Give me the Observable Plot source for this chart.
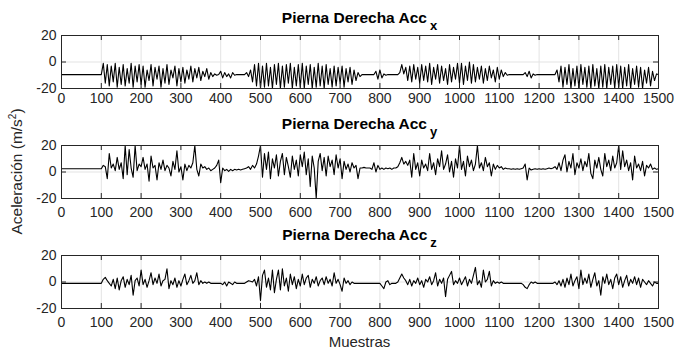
<!DOCTYPE html>
<html>
<head>
<meta charset="utf-8">
<script src="https://cdn.jsdelivr.net/npm/d3@7"></script>
<script src="https://cdn.jsdelivr.net/npm/@observablehq/plot@0.6"></script>
<style>
  body { margin: 0; background: #fff; }
  #fig { position: relative; width: 684px; height: 350px; overflow: hidden; background: #fff; }
  #fig svg { position: absolute; left: 0; }
</style>
</head>
<body>
<div id="fig"></div>
<script>
// Tick values shared by the three panels
const xTicks = [0, 100, 200, 300, 400, 500, 600, 700, 800, 900, 1000, 1100, 1200, 1300, 1400, 1500];
const yTicks = [-20, 0, 20];

// One value every 5 samples (0 … 1500)
const sampleStep = 5;

// Right leg accelerometer, X axis (m/s²)
const accX = [
  -9.5, -9.5, -9.5, -9.5, -9.5, -9.5, -9.5, -9.5, -9.5, -9.5, -9.5, -9.5, -9.5, -9.5, -9.5, -9.5, -9.5, -9.5, -9.5, -9.5,
  -9.5, -1, -16, -2, -18, -3, -15, -1, -19, -4, -17, -2, -18, -5, -16, -1, -19, -3, -15, -2,
  -17, -3, -19, -6, -14, -2, -18, -4, -13, -3, -19, -5, -16, -2, -17, -6, -12, -3, -18, -5,
  -15, -4, -16, -6, -13, -3, -15, -5, -12, -4, -14, -7, -11, -5, -13, -8, -11, -9, -10, -9.5,
  -7, -12, -8, -11, -9, -12, -8, -10, -9.5, -9.5, -9.5, -9.5, -9.5, -8, -11, -6, -15, -2, -18, -1,
  -20, -3, -19, -1, -18, -4, -20, -2, -17, -1, -20, -3, -19, -2, -16, -1, -20, -4, -18, -2,
  -19, -1, -20, -3, -17, -2, -20, -4, -19, -1, -18, -3, -20, -2, -17, -5, -19, -3, -18, -4,
  -16, -3, -19, -5, -15, -4, -17, -6, -14, -8, -11, -9.5, -9.5, -9.5, -9.5, -9.5, -9.5, -9.5, -7, -13,
  -6, -12, -9, -10, -9.5, -9.5, -9.5, -9.5, -9.5, -9.5, -8, -2, -9, -4, -14, -3, -15, -2, -13, -4,
  -16, -2, -14, -3, -15, -1, -17, -4, -13, -2, -16, -3, -14, -5, -17, -2, -15, -4, -13, -1,
  -16, -1, -17, -3, -14, 0, -16, -2, -15, -4, -13, -3, -16, -5, -14, -3, -12, -6, -15, -4,
  -13, -6, -11, -8, -10, -9.5, -9.5, -9.5, -9.5, -9.5, -9.5, -9.5, -9.5, -8, -11, -7, -12, -9, -10, -9.5,
  -9.5, -9.5, -9.5, -9.5, -9.5, -9.5, -9.5, -9.5, -9.5, -6, -15, -3, -19, -4, -17, -2, -20, -5, -18, -3,
  -20, -2, -17, -4, -19, -3, -20, -2, -18, -5, -20, -3, -19, -2, -20, -4, -17, -3, -20, -2,
  -19, -3, -20, -4, -18, -2, -20, -5, -17, -3, -19, -4, -20, -6, -16, -4, -18, -7, -14, -9,
  -9.5
];

// Right leg accelerometer, Y axis (m/s²)
const accY = [
  2.5, 2.5, 2.5, 2.5, 2.5, 2.5, 2.5, 2.5, 2.5, 2.5, 2.5, 2.5, 2.5, 2.5, 2.5, 2.5, 2.5, 2.5, 2.5, 2.5,
  2.5, 5, 4, -5, 14, 3, 6, 1, 11, 2, 7, -5, 20, -2, 17, 3, -4, 20, 1, 6,
  4, 11, 2, 6, -7, 12, 3, 5, -6, 7, 2, 9, 1, 5, 3, -3, 8, 2, 16, 0,
  4, -6, 6, 1, 5, 3, 7, 20, 2, -3, 6, 3, 4, 2, 3, 1, 2, 3, 5, 9,
  -8, 3, 1, 2, 0.5, 2, 1, 2, 1.5, 2, 1.5, 2, 2.5, 3, 4, 2, 5, 3, 6, 12,
  20, -4, 14, 2, 15, -5, 10, 3, 13, -3, 8, 14, -2, 11, 4, -4, 12, 2, 9, -3,
  13, 4, 15, -2, 10, -11, 12, 3, -20, 8, 14, 1, 11, -3, 12, 4, 9, -2, 13, 3,
  10, -5, 8, 2, 6, 0, 7, 3, 5, -5, 3, 3, 3.5, 3, 3, 3, 2, 7, 0, 5,
  2, 3, 2, 3, 2.5, 3, 2, 3, 3, 4, 7, 11, 6, 8, 5, 9, -4, 14, 2, 7,
  -3, 9, 3, 6, 1, 14, 2, 7, -2, 10, 4, 16, 2, 6, 13, 0, 8, -4, 10, 3,
  20, 2, 8, -3, 12, 4, 9, 1, 6, 20, 3, 7, 1, 11, 4, 7, -3, 6, 2, 5,
  3, 4, 2, 3, 2.5, 2.5, 2, 2.5, 2, 2.5, 2, 2.5, 3, 6, -6, 3, 1.5, 2, 2.5, 2,
  2.5, 2, 2.5, 2, 2.5, 3, 2.5, 3, 4, 2, 7, 1, 9, 13, 0, 8, 3, 14, -2, 7,
  3, 10, 1, 8, 4, 14, -1, -5, 9, 3, 11, 2, -3, 14, 4, 9, 1, 12, 3, 7,
  20, 2, 16, 4, 9, 1, 7, -6, 12, 3, 6, 1, 8, -3, 5, 3, 6, 2, 3, 2,
  2.5
];

// Right leg accelerometer, Z axis (m/s²)
const accZ = [
  -1, -1, -1, -1, -1, -1, -1, -1, -1, -1, -1, -1, -1, -1, -1, -1, -1, -1, -1, -1,
  -1, 2, 3.5, 1, -1, -3, 2, -5, 3, -6, 1, 4, -4, 2, -2, 5, -10, 1, 3, -3,
  9, -2, 2, -4, 1, 7, -2, 3, -1, 6, -3, 1, 2, 10, -5, 1, -2, 3, -4, 1,
  -3, 2, 6, -2, 1, 5, -1, 1, 7, -2, 1, -1, 0, -1, 0, -1, -1, -1, -1, -1,
  -1, -2, 0, -3, 0, -1, -2, 0, -1, -1, -1, -1, -1, 0, 1, 0.5, 0, 2, -3, 4,
  -14, 5, 9, -4, 3, -6, 9, -8, 2, 9, -6, 10, -3, 3, -7, 6, -2, 4, -5, 2,
  -3, 6, -2, 3, 5, -4, 2, -1, 4, -3, 1, 3, -2, 4, -1, 2, -3, 7, -1, 2,
  -2, -7, 3, -1, 1, -2, 0, -1, -1, -1, -1, -1, -1, -1, -1, -1, -1, -1, -1, -1,
  -1, -3, -5, 0, 1, -2, -1, -1, -1, 0, 3, 6, 3, 1, -2, 2, -3, 1, -1, 3,
  -2, 1, -4, 2, 0, 4, -2, 1, 7, -3, 2, -1, 3, -11, 2, 5, 8, -2, 1, -1,
  3, -2, 1, 4, -3, 2, -1, 5, 11, -2, 1, -4, 9, 0, 2, 8, -3, 1, -1, 0,
  -1, 0, -1, -1, -1, -1, -1, -1, -1, -1, -1, -1, -2, -4, -5, -2, 0, -1, 0, -1,
  -1, -1, -1, -1, -1, -1, -1, -1, 0, -2, 1, -3, 2, -4, 3, -2, 6, -3, 1, 4,
  -5, 9, -2, 3, -1, 6, -4, 2, 7, -3, 1, -10, 4, -1, 6, -2, 2, -5, 3, 6,
  -2, 4, -4, 1, 5, -3, 2, -1, 4, -2, 3, -4, 2, 0, -2, 1, -1, -3, 0, -1,
  -1
];

const titleText = "Pierna Derecha Acc";
const subscripts = ["x", "y", "z"];
const series = [accX, accY, accZ];

const fig = document.getElementById("fig");
const W = 684, mL = 61, mR = 26, mT = 35, innerH = 53, mB = 22;
const innerW = W - mL - mR;
const fontFamily = "'Liberation Sans', Arial, Helvetica, sans-serif";
const axisColor = "#262626";

// Per-panel placement: svg top, title baseline (within svg), tick-label gap
const layout = [
  {top: 0,   titleY: 23, labelGap: 5},
  {top: 110, titleY: 19, labelGap: 9},
  {top: 220, titleY: 20, labelGap: 9}
];

series.forEach((values, k) => {
  const data = values.map((v, i) => ({sample: i * sampleStep, value: v}));
  const svg = Plot.plot({
    width: W,
    height: mT + innerH + mB,
    marginLeft: mL, marginRight: mR, marginTop: mT, marginBottom: mB,
    style: {fontFamily, fontSize: "14px", color: axisColor, background: "transparent", overflow: "visible"},
    x: {domain: [0, 1500]},
    y: {domain: [-20, 20]},
    marks: [
      Plot.gridX(xTicks, {stroke: "#e3e3e3", strokeOpacity: 1}),
      Plot.gridY(yTicks, {stroke: "#e3e3e3", strokeOpacity: 1}),
      Plot.line(data, {x: "sample", y: "value", stroke: "#000", strokeWidth: 1.1}),
      // inward ticks on all four sides
      Plot.ruleX(xTicks, {insetTop: innerH - 5, stroke: axisColor}),
      Plot.ruleX(xTicks, {insetBottom: innerH - 5, stroke: axisColor}),
      Plot.ruleY(yTicks, {insetRight: innerW - 5, stroke: axisColor}),
      Plot.ruleY(yTicks, {insetLeft: innerW - 5, stroke: axisColor}),
      Plot.frame({stroke: axisColor, strokeWidth: 1}),
      Plot.axisX(xTicks, {tickSize: 0, tickPadding: layout[k].labelGap, label: null, tickFormat: d => String(d)}),
      Plot.axisY(yTicks, {tickSize: 0, tickPadding: 5, label: null, tickFormat: d => String(d)})
    ]
  });
  svg.style.top = layout[k].top + "px";

  // bold title with subscript
  const t = d3.select(svg).append("text")
    .attr("x", mL + innerW / 2)
    .attr("y", layout[k].titleY)
    .attr("text-anchor", "middle")
    .attr("fill", "#000")
    .style("font-family", fontFamily)
    .style("font-weight", "bold")
    .style("font-size", "15.5px");
  t.append("tspan").text(titleText);
  t.append("tspan").attr("dx", 3).attr("dy", 7).style("font-size", "13px").text(subscripts[k]);

  fig.appendChild(svg);
});

// Shared axis labels
const overlay = d3.create("svg")
  .attr("width", W).attr("height", 350)
  .style("top", "0px")
  .style("pointer-events", "none")
  .style("font-family", fontFamily);

const yl = overlay.append("text")
  .attr("transform", "translate(22,171.5) rotate(-90)")
  .attr("text-anchor", "middle")
  .attr("fill", axisColor)
  .style("font-size", "15.5px");
yl.append("tspan").text("Aceleración (m/s");
yl.append("tspan").attr("dy", -6).style("font-size", "10px").text("2");
yl.append("tspan").attr("dy", 6).text(")");

overlay.append("text")
  .attr("x", mL + innerW / 2)
  .attr("y", 347)
  .attr("text-anchor", "middle")
  .attr("fill", axisColor)
  .style("font-size", "15px")
  .text("Muestras");

fig.appendChild(overlay.node());
</script>
</body>
</html>
